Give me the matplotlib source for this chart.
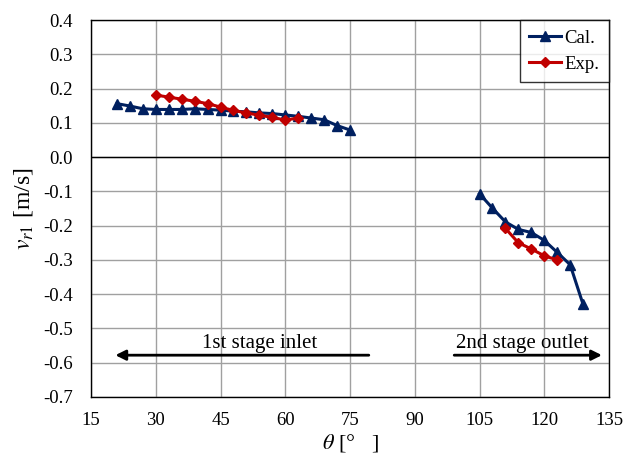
import matplotlib
matplotlib.use("Agg")
import matplotlib.pyplot as plt

plt.rcParams['font.family'] = ['Liberation Serif', 'DejaVu Serif']
plt.rcParams['mathtext.fontset'] = 'stix'

# inlet (1st stage) and outlet (2nd stage) data
cal_theta_in = [21, 24, 27, 30, 33, 36, 39, 42, 45, 48, 51, 54, 57, 60, 63, 66, 69, 72, 75]
cal_v_in = [0.156, 0.149, 0.141, 0.139, 0.139, 0.139, 0.141, 0.139, 0.137, 0.134,
            0.132, 0.129, 0.127, 0.123, 0.119, 0.114, 0.109, 0.092, 0.079]
cal_theta_out = [105, 108, 111, 114, 117, 120, 123, 126, 129]
cal_v_out = [-0.107, -0.149, -0.189, -0.211, -0.220, -0.243, -0.278, -0.314, -0.430]

exp_theta_in = [30, 33, 36, 39, 42, 45, 48, 51, 54, 57, 60, 63]
exp_v_in = [0.181, 0.175, 0.169, 0.163, 0.156, 0.146, 0.136, 0.129, 0.122, 0.116, 0.108, 0.114]
exp_theta_out = [111, 114, 117, 120, 123]
exp_v_out = [-0.208, -0.250, -0.268, -0.288, -0.300]

xticks = [15, 30, 45, 60, 75, 90, 105, 120, 135]
yticks = [0.4, 0.3, 0.2, 0.1, 0.0, -0.1, -0.2, -0.3, -0.4, -0.5, -0.6, -0.7]

navy = '#002060'
red = '#C00000'

fig = plt.figure(figsize=(6.29, 4.62), dpi=100)
ax = fig.add_axes([0.1447, 0.1407, 0.8235, 0.816])

# calculated
ax.plot(cal_theta_in, cal_v_in, color=navy, lw=2.2, marker='^', ms=7, label='Cal.')
ax.plot(cal_theta_out, cal_v_out, color=navy, lw=2.2, marker='^', ms=7)
# experiment
ax.plot(exp_theta_in, exp_v_in, color=red, lw=2.2, marker='D', ms=5.5, label='Exp.')
ax.plot(exp_theta_out, exp_v_out, color=red, lw=2.2, marker='D', ms=5.5)

ax.set_xlim(15, 135)
ax.set_ylim(-0.7, 0.4)
ax.set_xticks(xticks)
ax.set_yticks(yticks)
ax.set_yticklabels(['{:.1f}'.format(v) for v in yticks])
ax.tick_params(length=0, labelsize=13.5)
ax.tick_params(axis='y', pad=13)
ax.tick_params(axis='x', pad=11)
ax.grid(True, color='#a0a0a0', lw=1)
ax.set_axisbelow(True)
ax.axhline(0, color='black', lw=1)
for s in ax.spines.values():
    s.set_color('black')
    s.set_linewidth(1)

ax.set_ylabel(r'$v_{r1}$ [m/s]', fontsize=17, labelpad=6)
ax.set_xlabel(r'$\theta$ [°   ]', fontsize=16, labelpad=2)

# stage arrows
ax.annotate('', xy=(20, -0.578), xytext=(80, -0.578),
            arrowprops=dict(arrowstyle='-|>', color='black', lw=2, mutation_scale=15))
ax.text(54, -0.543, '1st stage inlet', ha='center', va='center', fontsize=15)
ax.annotate('', xy=(134, -0.578), xytext=(98.5, -0.578),
            arrowprops=dict(arrowstyle='-|>', color='black', lw=2, mutation_scale=15))
ax.text(115, -0.543, '2nd stage outlet', ha='center', va='center', fontsize=15)

leg = ax.legend(loc='upper right', fontsize=13.5, frameon=True, fancybox=False,
                edgecolor='black', borderaxespad=0, handlelength=1.7,
                handletextpad=0.2, borderpad=0.5, labelspacing=0.5)
leg.get_frame().set_linewidth(1)

plt.savefig('out.png', dpi=100)
